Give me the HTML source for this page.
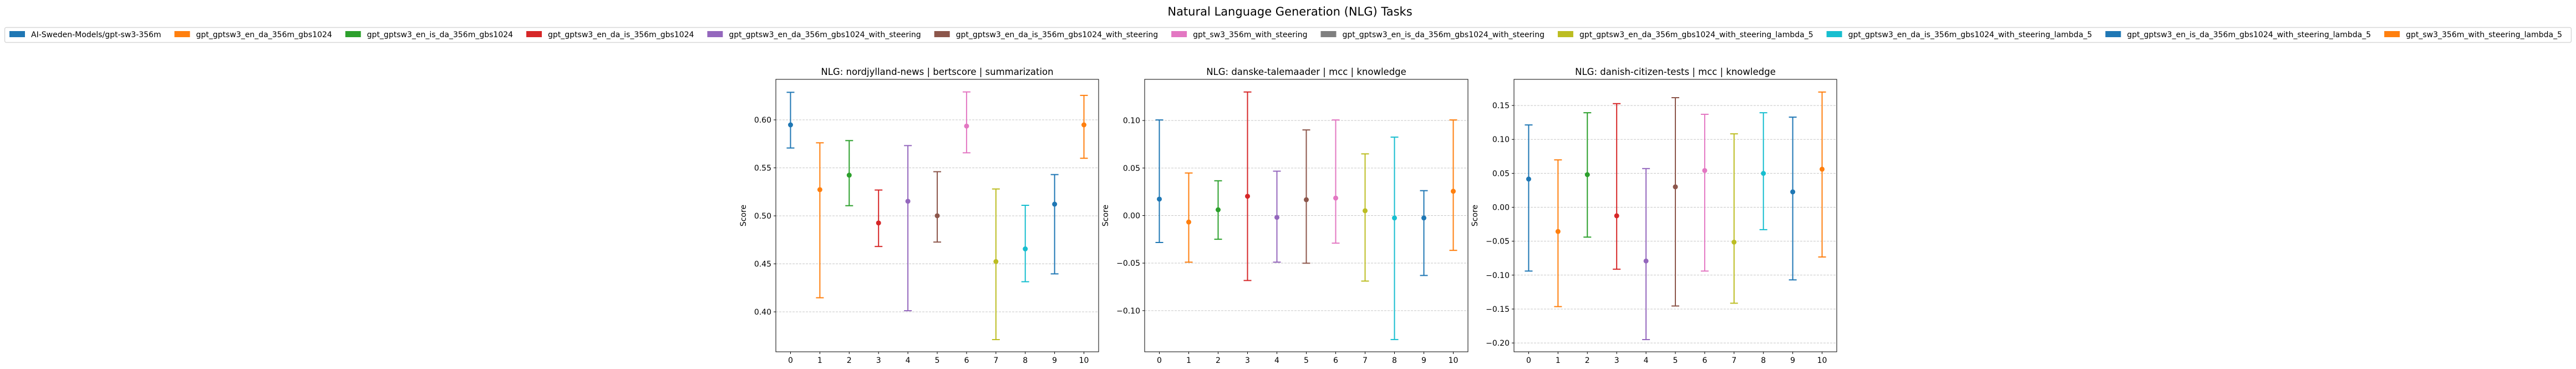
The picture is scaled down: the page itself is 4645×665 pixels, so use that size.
<!DOCTYPE html>
<html><head><meta charset="utf-8"><style>
html,body{margin:0;padding:0;background:#fff;}
svg{display:block;font-family:"DejaVu Sans","Liberation Sans",sans-serif;}
</style></head><body>
<svg id="fig" width="4645" height="665" xmlns="http://www.w3.org/2000/svg">
<text x="2326" y="28" font-size="21" text-anchor="middle" fill="#000">Natural Language Generation (NLG) Tasks</text>
<g id="legend"></g>
<g id="charts"></g>
</svg>
<script>
const NS="http://www.w3.org/2000/svg";
const legendLabels=["AI-Sweden-Models/gpt-sw3-356m","gpt_gptsw3_en_da_356m_gbs1024","gpt_gptsw3_en_is_da_356m_gbs1024","gpt_gptsw3_en_da_is_356m_gbs1024","gpt_gptsw3_en_da_356m_gbs1024_with_steering","gpt_gptsw3_en_da_is_356m_gbs1024_with_steering","gpt_sw3_356m_with_steering","gpt_gptsw3_en_is_da_356m_gbs1024_with_steering","gpt_gptsw3_en_da_356m_gbs1024_with_steering_lambda_5","gpt_gptsw3_en_da_is_356m_gbs1024_with_steering_lambda_5","gpt_gptsw3_en_is_da_356m_gbs1024_with_steering_lambda_5","gpt_sw3_356m_with_steering_lambda_5"];
const legendColors=["#1f77b4","#ff7f0e","#2ca02c","#d62728","#9467bd","#8c564b","#e377c2","#7f7f7f","#bcbd22","#17becf","#1f77b4","#ff7f0e"];
const pointColors=["#1f77b4","#ff7f0e","#2ca02c","#d62728","#9467bd","#8c564b","#e377c2","#bcbd22","#17becf","#1f77b4","#ff7f0e"];
const categories=[0,1,2,3,4,5,6,7,8,9,10];

const titles=["NLG: nordjylland-news | bertscore | summarization","NLG: danske-talemaader | mcc | knowledge","NLG: danish-citizen-tests | mcc | knowledge"];
const mean1=[0.5948,0.5273,0.5424,0.4926,0.5152,0.5001,0.5935,0.4524,0.4656,0.5122,0.5948];
const lo1=[0.5707,0.4147,0.5106,0.4681,0.4012,0.4727,0.5657,0.3711,0.4314,0.4396,0.5600];
const hi1=[0.6287,0.5761,0.5784,0.5269,0.5732,0.5460,0.6291,0.5280,0.5110,0.5430,0.6255];
const ticks1=[0.40,0.45,0.50,0.55,0.60];
const mean2=[0.0173,-0.0068,0.0061,0.0203,-0.0019,0.0167,0.0184,0.0051,-0.0025,-0.0025,0.0256];
const lo2=[-0.0283,-0.0490,-0.0249,-0.0683,-0.0490,-0.0501,-0.0290,-0.0689,-0.1304,-0.0630,-0.0366];
const hi2=[0.1006,0.0448,0.0366,0.1300,0.0467,0.0901,0.1006,0.0649,0.0825,0.0262,0.1006];
const ticks2=[-0.10,-0.05,0.00,0.05,0.10];
const mean3=[0.0416,-0.0357,0.0481,-0.0126,-0.0792,0.0301,0.0541,-0.0514,0.0499,0.0227,0.0561];
const lo3=[-0.0940,-0.1464,-0.0440,-0.0913,-0.1950,-0.1455,-0.0940,-0.1414,-0.0330,-0.1070,-0.0733];
const hi3=[0.1213,0.0698,0.1393,0.1527,0.0570,0.1615,0.1370,0.1082,0.1393,0.1328,0.1698];
const ticks3=[-0.20,-0.15,-0.10,-0.05,0.00,0.05,0.10,0.15];
const domains=[[0.3584,0.6422],[-0.1433,0.1433],[-0.2130,0.1885]];

function mk(tag,attrs,parent){const e=document.createElementNS(NS,tag);for(const k in attrs)e.setAttribute(k,attrs[k]);parent.appendChild(e);return e;}
function fmt(v){const s=Math.abs(v).toFixed(2);return (v<-1e-9?"\u2212":"")+s;}

// legend
const lg=document.getElementById('legend');
const box=mk('rect',{x:8.5,y:49.5,width:4628,height:27,rx:3,fill:'#fff',stroke:'#d8d8d8','stroke-width':1.5},lg);


let lx=17;
legendLabels.forEach((lab,i)=>{
  const g=mk('g',{},lg);
  
  
  mk('rect',{x:lx,y:56,width:28,height:11,fill:legendColors[i]},g);
  const t=mk('text',{x:lx+39,y:67,'font-size':14,fill:'#000'},g);
  t.textContent=lab;
  const w=t.getComputedTextLength();
  lx+=39+w+29;
});
// stretch if too narrow/wide
const total=lx-29-17, avail=4620-17;
if(Math.abs(total-avail)>5){
  let x=17;const extra=(avail-total)/11;
  Array.from(lg.querySelectorAll('g')).forEach(g=>{
    const r=g.children[0],t=g.children[1];
    r.setAttribute('x',x);t.setAttribute('x',x+39);
    x+=39+t.getComputedTextLength()+29+extra;
  });
}

const charts=document.getElementById('charts');
const panels=[
 {L:1399,R:1981,means:mean1,los:lo1,his:hi1,ticks:ticks1,dom:domains[0],ylab:1345},
 {L:2064,R:2647,means:mean2,los:lo2,his:hi2,ticks:ticks2,dom:domains[1],ylab:1998},
 {L:2730,R:3312,means:mean3,los:lo3,his:hi3,ticks:ticks3,dom:domains[2],ylab:2664}
];
const T=143,B=634;
panels.forEach((p,pi)=>{
  const g=mk('g',{},charts);
  
  
  const xs=v=>p.L+(v+0.5)/11*(p.R-p.L);
  const ys=v=>B-(v-p.dom[0])/(p.dom[1]-p.dom[0])*(B-T);
  // grid
  p.ticks.forEach(tv=>{
    const y=ys(tv);
    const gl=mk('line',{x1:p.L,x2:p.R,y1:y,y2:y,stroke:'#b0b0b0','stroke-width':1,'stroke-dasharray':'4,2','opacity':0.7},g);
    
    
    mk('line',{x1:p.L-4,x2:p.L,y1:y,y2:y,stroke:'#000','stroke-width':1},g);
    const t=mk('text',{x:p.L-8,y:y+5,'font-size':14,'text-anchor':'end',fill:'#000'},g);
    
    
    t.textContent=fmt(tv);
  });
  categories.forEach(c=>{
    const x=xs(c);
    mk('line',{x1:x,x2:x,y1:B,y2:B+4,stroke:'#000','stroke-width':1},g);
    const t=mk('text',{x:x,y:B+20,'font-size':14,'text-anchor':'middle',fill:'#000'},g);
    
    
    t.textContent=String(c);
  });
  // errorbars
  categories.forEach((c,i)=>{
    const x=xs(c),col=pointColors[i];
    const e=mk('g',{stroke:col,'stroke-width':2,fill:col},g);
    
    
    const yl=ys(p.los[i]),yh=ys(p.his[i]);
    mk('line',{x1:x,x2:x,y1:yl,y2:yh},e);
    mk('line',{x1:x-7,x2:x+7,y1:yl,y2:yl},e);
    mk('line',{x1:x-7,x2:x+7,y1:yh,y2:yh},e);
    mk('circle',{cx:x,cy:ys(p.means[i]),r:4.5,stroke:'none'},e);
  });
  const fr=mk('rect',{x:p.L,y:T,width:p.R-p.L,height:B-T,fill:'none',stroke:'#000','stroke-width':1},g);
  
  
  const tt=mk('text',{x:(p.L+p.R)/2,y:T-8,'font-size':16.5,'text-anchor':'middle',fill:'#000'},g);
  
  
  tt.textContent=titles[pi];
  const yl=mk('text',{x:p.ylab,y:(T+B)/2,'font-size':14,'text-anchor':'middle',fill:'#000',transform:'rotate(-90 '+p.ylab+' '+(T+B)/2+')'},g);
  
  
  yl.textContent='Score';
});
</script>
</body></html>
